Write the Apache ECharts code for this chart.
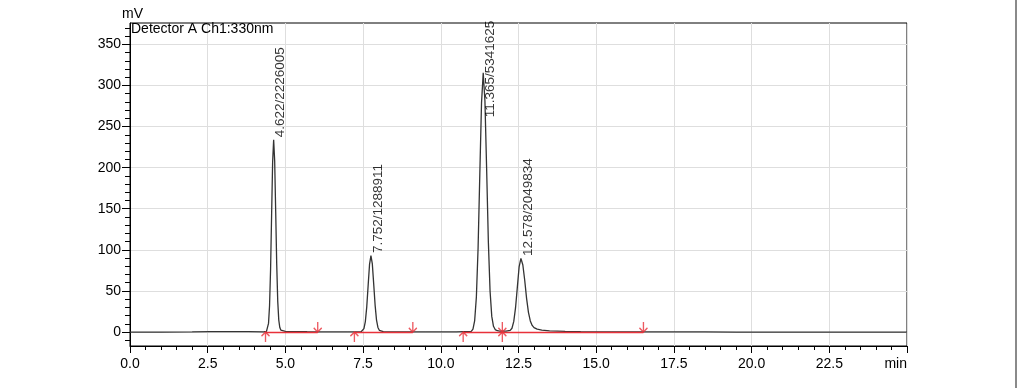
<!DOCTYPE html>
<html>
<head>
<meta charset="utf-8">
<script src="https://cdn.jsdelivr.net/npm/echarts@6/dist/echarts.min.js"></script>
<style>
html,body{margin:0;padding:0;background:#fff;}
#chart{width:1023px;height:388px;}
</style>
</head>
<body>
<div id="chart"></div>
<script>
// chromatogram trace (min / mV)
var times=[0.0,1.0,2.0,2.6,3.2,3.8,4.3,
	4.391,4.424,4.457,4.490,4.523,4.556,4.589,4.622,4.655,4.688,4.721,4.754,4.787,4.820,4.853,4.90,5.0,5.3,5.7,6.0,6.5,7.0,7.3,
	7.437,7.482,7.527,7.572,7.617,7.662,7.707,7.752,7.797,7.842,7.887,7.932,7.977,8.022,8.07,8.15,8.4,9.0,9.5,10.5,
	10.98,11.035,11.09,11.145,11.20,11.255,11.31,11.365,11.42,11.475,11.53,11.585,11.64,11.695,11.75,11.82,11.90,11.98,
	12.1,12.233,12.29,12.348,12.405,12.463,12.52,12.578,12.64,12.70,12.76,12.82,12.88,12.94,13.0,13.1,13.25,13.5,14.0,14.5,15.5,16.5,17.5,18.5,19.5,21.0,23.0,25.0];
var signal=[0,0,0.1,0.4,0.5,0.4,0.3,
	0.7,2.8,10.5,31.9,76.2,142,206.5,234,208,146,82,37,14.5,5.5,2.4,1.3,0.8,0.6,0.4,0.3,0.2,0.1,0.1,
	0.3,1.1,4.2,12.7,30.3,56.5,82.2,93,82.8,58,32.5,14.5,5.6,2.1,0.9,0.5,0.3,0.2,0.1,0.1,
	0.8,3.6,14,42.8,102.5,191.5,278.5,315.5,281,198,110,50,19,7,3,1.6,1.1,1.0,
	1.1,2.0,4.6,12.9,29.6,54.6,79.3,89.6,81.5,63,41,24,13.5,8,5.3,3.5,2.3,1.4,0.8,0.5,0.3,0.2,0.3,0.2,0,0,0,0];

// peak table
var peakRT=[4.622,7.752,11.365,12.578];
var peakArea=[2226005,1288911,5341625,2049834];
var peakHeight=[234,93,315.5,89.6];
var baseStart=[4.36,7.22,10.72,11.98];
var baseEnd=[6.04,9.10,11.98,16.52];

// axis ticks
var yTicks=[0,50,100,150,200,250,300,350];
var yMinorTicks=[-10,10,20,30,40,60,70,80,90,110,120,130,140,160,170,180,190,210,220,230,240,260,270,280,290,310,320,330,340,360,370];

var font='Liberation Sans, Arial, sans-serif';
var red='#e8313a';

var trace=[];
for(var i=0;i<times.length;i++){
	trace.push([times[i],signal[i]]);
}

var baseLines=[];
var upMarks=[];
var downMarks=[];
for(var j=0;j<baseStart.length;j++){
	baseLines.push([{coord:[baseStart[j],0]},{coord:[baseEnd[j],0]}]);
	upMarks.push([baseStart[j],0]);
	downMarks.push([baseEnd[j],0]);
}

var labelData=[];
for(var k=0;k<peakRT.length;k++){
	// the third label sits lower, beside the flank
	labelData.push({
		value:[peakRT[k],peakHeight[k]],
		label:{position:[7.5,k==2?45:-2]}
	});
}

var option={
	animation:false,
	title:{
		text:'Detector A Ch1:330nm',
		left:131,
		top:22,
		padding:0,
		textStyle:{fontFamily:font,fontSize:14,fontWeight:'normal',color:'#000'}
	},
	grid:{
		left:130,
		right:116,
		top:23,
		bottom:42,
		show:true,
		borderColor:'#000',
		borderWidth:1
	},
	xAxis:{
		type:'value',
		min:0,
		max:25,
		interval:2.5,
		axisLine:{show:true,onZero:false,lineStyle:{color:'#000',width:1}},
		axisTick:{show:true,length:7,lineStyle:{color:'#000'}},
		minorTick:{show:true,splitNumber:5,length:4,lineStyle:{color:'#000'}},
		splitLine:{show:true,lineStyle:{color:'#dedede',width:1}},
		axisLabel:{
			fontFamily:font,fontSize:14,color:'#000',margin:11,
			showMaxLabel:true,alignMaxLabel:'right',
			formatter:function(v){ return v==25?'min':v.toFixed(1); }
		}
	},
	yAxis:[{
		type:'value',
		min:-17,
		max:376,
		name:'mV',
		nameLocation:'end',
		nameGap:2,
		nameTextStyle:{fontFamily:font,fontSize:14,color:'#000',align:'center',padding:[0,0,0,5]},
		axisLine:{show:true,onZero:false,lineStyle:{color:'#000',width:1}},
		axisTick:{show:true,length:8,customValues:yTicks,lineStyle:{color:'#000'}},
		axisLabel:{fontFamily:font,fontSize:14,color:'#000',margin:9,customValues:yTicks},
		splitLine:{show:true,lineStyle:{color:'#dedede',width:1}}
	},{
		type:'value',
		min:-17,
		max:376,
		position:'left',
		axisLine:{show:false,onZero:false},
		axisTick:{show:true,length:5,customValues:yMinorTicks,lineStyle:{color:'#000'}},
		axisLabel:{show:false},
		splitLine:{show:false}
	}],
	graphic:[{
		type:'line',
		shape:{x1:1016,y1:0,x2:1016,y2:388},
		style:{stroke:'#8a8a8a',lineWidth:2}
	}],
	series:[{
		name:'signal',
		type:'line',
		data:trace,
		showSymbol:false,
		lineStyle:{color:'#333',width:1.3},
		markLine:{
			silent:true,
			symbol:'none',
			label:{show:false},
			lineStyle:{color:red,width:1.3,type:'solid'},
			data:baseLines
		},
		z:3
	},{
		name:'start',
		type:'scatter',
		data:upMarks,
		symbol:'path://M5,0 L5,12 M0,5 L5,0 L10,5',
		symbolSize:[8,10],
		symbolOffset:[0,'50%'],
		itemStyle:{color:'rgba(0,0,0,0)',borderColor:red,borderWidth:1.5},
		z:4
	},{
		name:'end',
		type:'scatter',
		data:downMarks,
		symbol:'path://M5,12 L5,0 M0,7 L5,12 L10,7',
		symbolSize:[8,10],
		symbolOffset:[0,'-50%'],
		itemStyle:{color:'rgba(0,0,0,0)',borderColor:red,borderWidth:1.5},
		z:4
	},{
		name:'labels',
		type:'scatter',
		data:labelData,
		symbolSize:1,
		itemStyle:{color:'rgba(0,0,0,0)'},
		label:{
			show:true,
			rotate:90,
			align:'left',
			verticalAlign:'middle',
			fontFamily:font,
			fontSize:13.5,
			color:'#000',
			formatter:function(p){ return peakRT[p.dataIndex].toFixed(3)+'/'+peakArea[p.dataIndex]; }
		},
		z:5
	}]
};

var myChart=echarts.init(document.getElementById('chart'));
myChart.setOption(option);
</script>
</body>
</html>
